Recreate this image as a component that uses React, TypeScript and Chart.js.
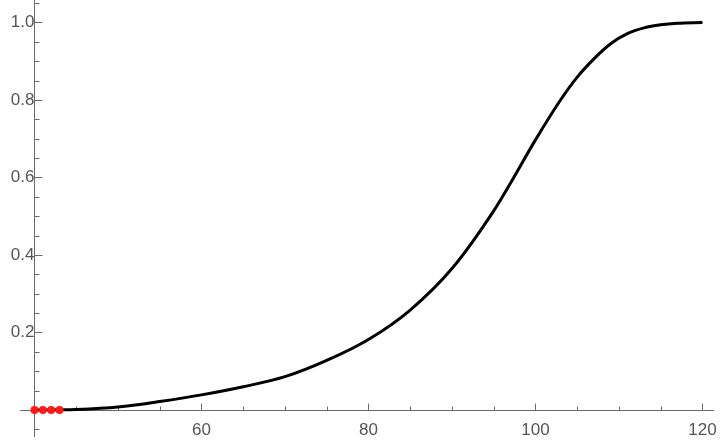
import React, { useEffect, useRef } from "react";
import { Chart, registerables } from "chart.js";

Chart.register(...registerables);

// ---- data ----
const CURVE_X = [40, 43, 45, 50, 55, 60, 65, 70, 75, 80, 85, 90, 95, 97, 100, 103, 105, 107, 109, 111, 113, 115, 117, 120];
const CURVE_Y = [0, 0.0005, 0.0015, 0.008, 0.022, 0.039, 0.06, 0.086, 0.128, 0.182, 0.258, 0.365, 0.514, 0.585, 0.697, 0.8, 0.859, 0.906, 0.945, 0.971, 0.986, 0.994, 0.998, 1.0];
const DOTS_X = [40, 41, 42, 43];
const DOTS_Y = [0, 0, 0, 0];

const X_MAJOR = [60, 80, 100, 120];
const X_MINOR = [45, 50, 55, 65, 70, 75, 85, 90, 95, 105, 110, 115];
const Y_MAJOR = [0.2, 0.4, 0.6, 0.8, 1.0];
const Y_MINOR = [-0.05, 0.05, 0.1, 0.15, 0.25, 0.3, 0.35, 0.45, 0.5, 0.55, 0.65, 0.7, 0.75, 0.85, 0.9, 0.95, 1.05];

const X_ORIGIN = 40;
const Y_ORIGIN = 0;
const X_RANGE = [35.87, 122.1];
const Y_RANGE = [-0.0774, 1.058];
const X_AXIS_EXTENT = [38.3, 121.4];
const Y_AXIS_EXTENT = [-0.07, 1.06];

const AXIS_COLOR = "#6a6a6a";
const LABEL_COLOR = "#555555";

const axesPlugin = {
  id: "mathAxes",
  beforeDatasetsDraw(chart: any) {
    const { ctx } = chart;
    const xs = chart.scales.x;
    const ys = chart.scales.y;
    const ox = Math.round(xs.getPixelForValue(X_ORIGIN)) + 0.5;
    const oy = Math.round(ys.getPixelForValue(Y_ORIGIN)) + 0.5;
    ctx.save();
    ctx.strokeStyle = AXIS_COLOR;
    ctx.lineWidth = 1;
    ctx.beginPath();
    ctx.moveTo(xs.getPixelForValue(X_AXIS_EXTENT[0]), oy);
    ctx.lineTo(xs.getPixelForValue(X_AXIS_EXTENT[1]), oy);
    ctx.moveTo(ox, ys.getPixelForValue(Y_AXIS_EXTENT[0]));
    ctx.lineTo(ox, ys.getPixelForValue(Y_AXIS_EXTENT[1]));
    const xt = (v: number, len: number) => {
      const p = Math.round(xs.getPixelForValue(v)) + 0.5;
      ctx.moveTo(p, oy);
      ctx.lineTo(p, oy - len);
    };
    const yt = (v: number, len: number) => {
      const p = Math.round(ys.getPixelForValue(v)) + 0.5;
      ctx.moveTo(ox, p);
      ctx.lineTo(ox + len, p);
    };
    X_MAJOR.forEach((v) => xt(v, 7));
    X_MINOR.forEach((v) => xt(v, 4));
    Y_MAJOR.forEach((v) => yt(v, 8));
    Y_MINOR.forEach((v) => yt(v, 5));
    ctx.stroke();
    ctx.restore();
  },
};

const zeroPad = (s: any) => {
  s.paddingTop = 0;
  s.paddingBottom = 0;
  s.paddingLeft = 0;
  s.paddingRight = 0;
};

export default function App() {
  const ref = useRef<HTMLCanvasElement | null>(null);
  useEffect(() => {
    document.body.style.margin = "0";
    const canvas = ref.current;
    if (!canvas) return;
    const font = { family: "'Liberation Sans', Arial, sans-serif", size: 17 };
    const chart = new Chart(canvas, {
      type: "line",
      data: {
        datasets: [
          {
            label: "points",
            data: DOTS_X.map((x, i) => ({ x, y: DOTS_Y[i] })),
            showLine: false,
            pointRadius: 4,
            pointBackgroundColor: "#ff1a1a",
            pointBorderWidth: 0,
            borderColor: "#ff1a1a",
          },
          {
            label: "curve",
            data: CURVE_X.map((x, i) => ({ x, y: CURVE_Y[i] })),
            borderColor: "#000000",
            borderWidth: 3,
            pointRadius: 0,
            cubicInterpolationMode: "monotone",
            fill: false,
          },
        ],
      },
      options: {
        responsive: false,
        animation: false,
        layout: { padding: 0, autoPadding: false },
        plugins: { legend: { display: false }, tooltip: { enabled: false } },
        scales: {
          x: {
            type: "linear",
            min: X_RANGE[0],
            max: X_RANGE[1],
            position: { y: Y_ORIGIN },
            grid: { display: false, drawTicks: false },
            border: { display: false },
            afterFit: zeroPad,
            afterBuildTicks: (s: any) => {
              s.ticks = X_MAJOR.map((v) => ({ value: v }));
            },
            ticks: {
              autoSkip: false,
              maxRotation: 0,
              padding: 10,
              color: LABEL_COLOR,
              font,
              callback: (v: any) => String(v),
            },
          },
          y: {
            type: "linear",
            min: Y_RANGE[0],
            max: Y_RANGE[1],
            position: { x: X_ORIGIN },
            grid: { display: false, drawTicks: false },
            border: { display: false },
            afterFit: zeroPad,
            afterBuildTicks: (s: any) => {
              s.ticks = Y_MAJOR.map((v) => ({ value: v }));
            },
            ticks: {
              autoSkip: false,
              padding: 6,
              color: LABEL_COLOR,
              font,
              callback: (v: any) => Number(v).toFixed(1),
            },
          },
        },
      },
      plugins: [axesPlugin],
    } as any);
    return () => chart.destroy();
  }, []);
  return (
    <div style={{ width: 720, height: 440 }}>
      <canvas ref={ref} width={720} height={440} />
    </div>
  );
}
